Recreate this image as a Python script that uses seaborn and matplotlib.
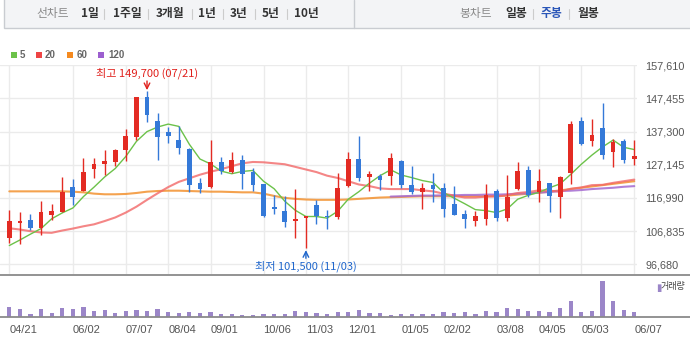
import numpy as np
import matplotlib
matplotlib.use("Agg")
import matplotlib.pyplot as plt
import seaborn as sns
from matplotlib.patches import Rectangle
from matplotlib.lines import Line2D

# ---- weekly price data (KRW) ----
opens = [104800, 109400, 110300, 107900, 111800, 112800, 120400, 119200, 125700, 127300,
         128100, 131700, 135600, 147900, 140600, 137200, 134700, 132000, 121600, 120200,
         128000, 124800, 128600, 124800, 121200, 114200, 113000, 109800, 110900, 114800,
         111500, 111100, 120500, 129000, 123500, 123800, 123800, 128300, 121000, 118900,
         121000, 120100, 115200, 112100, 110000, 110400, 119100, 110700, 119700, 125600,
         118900, 121600, 117300, 124700, 140600, 134500, 138400, 131200, 134400, 129000]
closes = [109900, 109600, 107700, 112700, 113000, 118800, 117400, 125000, 127400, 128300,
          131700, 136000, 147900, 142400, 135500, 136100, 132400, 120800, 119700, 128000,
          125100, 128600, 124300, 121000, 111500, 113600, 109700, 110400, 111500, 111300,
          111000, 120100, 129000, 123000, 124400, 122600, 129200, 120800, 118900, 120100,
          119700, 113700, 111900, 110400, 111500, 117900, 110700, 117400, 125300, 117900,
          122200, 117700, 123400, 139600, 133500, 136300, 130000, 134100, 128700, 129800]
highs = [113300, 112700, 112100, 116100, 115200, 123400, 122800, 129200, 129200, 131700,
         132000, 138100, 148000, 149700, 142900, 138800, 139000, 132200, 123000, 134600,
         129500, 131100, 130000, 126100, 121300, 117900, 117500, 119700, 111600, 116200,
         113300, 124700, 131100, 136100, 125100, 124400, 130800, 128500, 126800, 121600,
         124600, 121600, 120700, 113300, 113000, 121300, 119700, 124000, 128000, 126800,
         125900, 121700, 123700, 140600, 141800, 141200, 146100, 135100, 135100, 134700]
lows = [103300, 103000, 107200, 105700, 110300, 112600, 114800, 119000, 123200, 124000,
        126800, 128300, 134700, 140100, 128700, 133900, 130300, 118900, 118400, 120000,
        124300, 124700, 119800, 119100, 111000, 112000, 108200, 104600, 101500, 109100,
        107600, 110400, 120300, 122300, 119000, 119500, 120800, 119900, 118100, 113600,
        115600, 111000, 111800, 107900, 108500, 108800, 110000, 110000, 119500, 117400,
        115800, 112800, 110700, 121400, 133200, 133000, 129000, 126600, 127800, 127200]
volume = [31, 25, 10, 25, 13, 28, 25, 31, 19, 22, 13, 19, 22, 19, 25, 16, 13, 16, 13, 16,
          10, 10, 7, 7, 10, 10, 10, 19, 16, 13, 10, 16, 16, 22, 13, 13, 7, 10, 10, 10,
          10, 16, 13, 16, 10, 19, 16, 28, 25, 19, 19, 16, 28, 49, 16, 19, 109, 49, 22, 16]

# moving averages (5 / 20 / 60 / 120 weeks)
ma5 = [102400, 104100, 105900, 107600, 110600, 112400, 113900, 117400, 120300, 123400,
       126000, 129700, 134300, 137300, 138700, 139600, 138900, 133400, 128900, 127400,
       125200, 124400, 125100, 125400, 122100, 119800, 116000, 113200, 111300, 111300,
       110800, 112900, 116600, 118900, 121500, 123800, 125600, 124000, 123200, 122300,
       121700, 118600, 116900, 115200, 113400, 113100, 112500, 113600, 116600, 117800,
       118700, 120100, 121300, 124200, 127300, 130100, 132600, 134700, 132500, 131800]
ma20 = [107700, 107300, 106800, 106400, 106300, 107000, 107600, 108300, 108900, 109900,
        111000, 112500, 114300, 116400, 118400, 120300, 121900, 123000, 124100, 125000,
        125800, 126700, 127600, 128000, 127900, 127600, 127300, 126500, 125700, 124900,
        123800, 123100, 122100, 121100, 120600, 119900, 119700, 119700, 119700, 119300,
        119000, 118300, 117700, 117100, 117100, 117400, 117400, 117800, 118500, 118800,
        119300, 119200, 118900, 119800, 120200, 120900, 121000, 121600, 122100, 122600]
ma60 = [119000, 119000, 119000, 119000, 119000, 119000, 118900, 118700, 118300, 118100,
        118100, 118200, 118500, 118900, 119100, 119200, 119200, 119100, 119000, 118900,
        118900, 118800, 118700, 118700, 118300, 117600, 117000, 116700, 116500, 116400,
        116400, 116400, 116500, 116700, 116900, 117100, 117200, 117300, 117400, 117500,
        117500, 117500, 117500, 117500, 117500, 117500, 117600, 117700, 118000, 118300,
        118600, 118900, 119300, 119700, 120100, 120500, 120900, 121300, 121700, 122100]
ma120 = [np.nan] * 36 + [117400, 117500, 117600, 117700, 117700, 117800, 117800, 117900,
                         117900, 118000, 118000, 118100, 118300, 118400, 118600, 118800,
                         119100, 119200, 119400, 119700, 119900, 120100, 120400, 120600]

price_levels = [96680, 106835, 116990, 127145, 137300, 147455, 157610]
tick_weeks = [0, 6, 11, 15, 19, 24, 28, 32, 37, 41, 46, 50, 54, 59]
tick_labels = ["04/21", "06/02", "07/07", "08/04", "09/01", "10/06", "11/03",
               "12/01", "01/05", "02/02", "03/08", "04/05", "05/03", "06/07"]
high_label_date = "07/21"
low_label_date = "11/03"

# ---- style ----
sns.set_style("white")
plt.rcParams["font.family"] = ["Liberation Sans", "Noto Sans CJK KR", "DejaVu Sans"]
KR = ["Noto Sans CJK KR", "DejaVu Sans"]

UP = "#e32b23"
DOWN = "#3479d8"
GRID = "#ebebeb"
VOL = "#9b86c8"
C5, C20, C60, C120 = "#6cc24a", "#f26868", "#f39230", "#a46ad0"

W, H = 690, 349
fig = plt.figure(figsize=(W / 100, H / 100), dpi=100)
fig.patch.set_facecolor("white")


def fx(px):
    return px / W


def fy(py):
    return 1 - py / H


idx = np.arange(len(closes))
step = 10.593
x0 = 9.3
right_px = 637
xlim = (-x0 / step, (right_px - x0) / step)

# ---- price panel ----
top_px, bot_px = 65.0, 274.0
ppx = 306.3
ylim = (157610 - (bot_px - 65.3) * ppx, 157610 + (65.3 - top_px) * ppx)
ax = fig.add_axes([0, fy(bot_px), fx(right_px), (bot_px - top_px) / H])
ax.set_xlim(*xlim)
ax.set_ylim(*ylim)
for s in ax.spines.values():
    s.set_visible(False)
ax.set_yticks(price_levels)
ax.set_yticklabels([f"{v:,}" for v in price_levels])
ax.yaxis.tick_right()
ax.tick_params(axis="y", length=0, pad=6, labelsize=7.8, labelcolor="#555555")
ax.set_xticks(tick_weeks)
ax.tick_params(axis="x", length=0, labelbottom=False)
ax.grid(True, color=GRID, linewidth=1)
ax.set_axisbelow(True)

# moving average lines
sns.lineplot(x=idx, y=ma60, ax=ax, color=C60, linewidth=1.5, alpha=0.85)
sns.lineplot(x=idx, y=ma120, ax=ax, color=C120, linewidth=1.5, alpha=0.85)
sns.lineplot(x=idx, y=ma20, ax=ax, color=C20, linewidth=1.5, alpha=0.8)
sns.lineplot(x=idx, y=ma5, ax=ax, color=C5, linewidth=1.0)

# candles
o = np.array(opens)
c = np.array(closes)
colors = [UP if ci >= oi else DOWN for oi, ci in zip(o, c)]
ax.vlines(idx, lows, highs, colors=colors, linewidth=1.0, zorder=3)
body_bottom = np.minimum(o, c)
body_height = np.maximum(np.abs(c - o), 400)
ax.bar(idx, body_height, bottom=body_bottom, width=0.45, color=colors, zorder=4,
       linewidth=0)
ax.set_xlabel("")
ax.set_ylabel("")

# highest / lowest markers
hi_i = int(np.argmax(highs))
lo_i = int(np.argmin(lows))
ax.text(hi_i, 157610 - (73 - 65.3) * ppx, f"최고 {highs[hi_i]:,} ({high_label_date})",
        color="#e0201c", fontsize=8, ha="center", va="center", family=KR)
ax.annotate("", xy=(hi_i, highs[hi_i] + 300), xytext=(hi_i, highs[hi_i] + 3100),
            arrowprops=dict(arrowstyle="->", color="#e0201c", lw=1.0,
                            shrinkA=0, shrinkB=0))
ax.text(lo_i, 157610 - (266.5 - 65.3) * ppx, f"최저 {lows[lo_i]:,} ({low_label_date})",
        color="#1f66cc", fontsize=8, ha="center", va="center", family=KR, clip_on=False)
ax.annotate("", xy=(lo_i, lows[lo_i] - 500), xytext=(lo_i, lows[lo_i] - 3000),
            arrowprops=dict(arrowstyle="->", color="#1f66cc", lw=1.0,
                            shrinkA=0, shrinkB=0))

# ---- volume panel ----
vtop, vbot = 274.0, 317.0
axv = fig.add_axes([0, fy(vbot), fx(right_px), (vbot - vtop) / H])
sns.barplot(x=idx, y=volume, ax=axv, color=VOL, native_scale=True, width=0.4,
            saturation=1, errorbar=None, linewidth=0)
axv.set_xlim(*xlim)
axv.set_ylim(0, 129)
for s in axv.spines.values():
    s.set_visible(False)
axv.set_yticks([])
axv.set_xticks(tick_weeks)
axv.set_xticklabels(tick_labels)
for lbl in axv.get_xticklabels():
    lbl.set_horizontalalignment("left")
axv.tick_params(axis="x", length=4, width=1, color="#888888", pad=1.5,
                labelsize=8, labelcolor="#555555")
axv.set_xlabel("")
axv.set_ylabel("")
fig.text(fx(656), fy(287.5), "▮", color=VOL, fontsize=7, ha="left", va="center",
         family=["DejaVu Sans"])
fig.text(fx(661), fy(287), "거래량", color="#444444", fontsize=6.5, ha="left",
         va="center", family=KR)

# panel separator lines
for yy in (274.5, 317.0):
    fig.add_artist(Line2D([0, 1], [fy(yy), fy(yy)], transform=fig.transFigure,
                          color="#8a8a8a", linewidth=1.3))

# ---- legend row ----
leg = [("5", C5, 11, 20), ("20", "#ee4444", 36, 45), ("60", "#f58a1f", 67, 77),
       ("120", "#9c5fcf", 98, 108)]
for txt, col, sx, tx in leg:
    fig.add_artist(Rectangle((fx(sx), fy(58)), fx(6), 6 / H, transform=fig.transFigure,
                             facecolor=col, edgecolor="none"))
    fig.text(fx(tx), fy(55), txt, color="#666666", fontsize=7, fontweight="bold",
             ha="left", va="center")

# ---- header bar ----
fig.add_artist(Rectangle((fx(4), fy(28.3)), 1, 28.3 / H + 0.01, transform=fig.transFigure,
                         facecolor="#f3f4f6", edgecolor="#c9ccd1", linewidth=1))
fig.add_artist(Line2D([fx(354), fx(354)], [fy(0), fy(28.3)], transform=fig.transFigure,
                      color="#c9ccd1", linewidth=1))
header_left = [("선차트", 53, "#8a8a8a", "normal"), ("1일", 90, "#333333", "bold"),
               ("1주일", 127, "#333333", "bold"), ("3개월", 170, "#333333", "bold"),
               ("1년", 206.5, "#333333", "bold"), ("3년", 239, "#333333", "bold"),
               ("5년", 270.5, "#333333", "bold"), ("10년", 306, "#333333", "bold"),
               ("봉차트", 476, "#8a8a8a", "normal"), ("일봉", 516, "#333333", "bold"),
               ("주봉", 551.5, "#2a56b8", "bold"), ("월봉", 588, "#333333", "bold")]
for txt, cx, col, wt in header_left:
    fig.text(fx(cx), fy(14), txt, color=col, fontsize=8.5, fontweight=wt,
             ha="center", va="center", family=KR)
for sx in (104, 148, 192, 223, 255, 287, 533, 569):
    fig.add_artist(Line2D([fx(sx), fx(sx)], [fy(9), fy(19)], transform=fig.transFigure,
                          color="#cccccc", linewidth=0.8))

fig.savefig("out.png", dpi=100, facecolor="white")
